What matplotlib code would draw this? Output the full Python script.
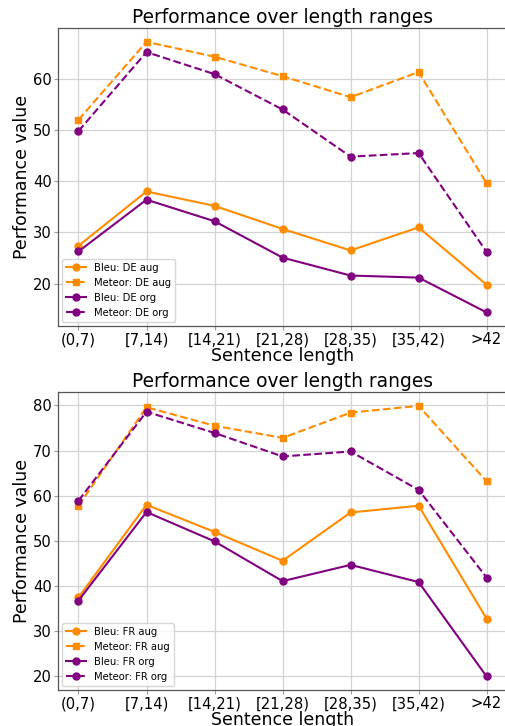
import matplotlib
matplotlib.use("Agg")
import matplotlib.pyplot as plt

# length buckets on the x axis
ranges = ["(0,7)", "[7,14)", "[14,21)", "[21,28)", "[28,35)", "[35,42)", ">42"]

# DE scores
bleu_de_aug = [27.4, 38.0, 35.2, 30.7, 26.5, 31.0, 19.8]
meteor_de_aug = [52.0, 67.2, 64.3, 60.5, 56.4, 61.3, 39.6]
bleu_de_org = [26.3, 36.4, 32.2, 25.1, 21.6, 21.2, 14.4]
meteor_de_org = [49.8, 65.2, 60.9, 54.0, 44.8, 45.5, 26.2]

# FR scores
bleu_fr_aug = [37.5, 58.0, 52.0, 45.6, 56.3, 57.8, 32.8]
meteor_fr_aug = [57.8, 79.6, 75.5, 72.8, 78.4, 79.9, 63.2]
bleu_fr_org = [36.8, 56.4, 49.9, 41.1, 44.7, 40.9, 20.0]
meteor_fr_org = [58.9, 78.6, 73.9, 68.7, 69.8, 61.3, 41.9]

aug_color = "darkorange"
org_color = "purple"

fig = plt.figure(figsize=(5.05, 7.26), dpi=100)
ax1 = fig.add_axes([0.115, 0.551, 0.889, 0.410])
ax2 = fig.add_axes([0.115, 0.0496, 0.889, 0.410])


def draw(ax, lang, b_aug, m_aug, b_org, m_org):
    style = dict(linewidth=1.5, markersize=5)
    ax.plot(ranges, b_aug, color=aug_color, marker="o", linestyle="-", label=f"Bleu: {lang} aug", **style)
    ax.plot(ranges, m_aug, color=aug_color, marker="s", linestyle="--", label=f"Meteor: {lang} aug", **style)
    ax.plot(ranges, b_org, color=org_color, marker="o", linestyle="-", label=f"Bleu: {lang} org", **style)
    ax.plot(ranges, m_org, color=org_color, marker="o", linestyle="--", label=f"Meteor: {lang} org", **style)
    ax.set_title("Performance over length ranges", fontsize=13.4, pad=4)
    ax.set_xlabel("Sentence length", fontsize=12.5, labelpad=0)
    ax.set_ylabel("Performance value", fontsize=12.5, labelpad=1.5)
    ax.tick_params(labelsize=10.6, length=3, color="#999999", pad=1.5)
    for s in ax.spines.values():
        s.set_color("#555555")
        s.set_linewidth(0.9)
    ax.grid(True, color="#d3d3d3", linewidth=0.9)
    ax.legend(loc="lower left", fontsize=7.2, borderaxespad=0.4)


draw(ax1, "DE", bleu_de_aug, meteor_de_aug, bleu_de_org, meteor_de_org)
draw(ax2, "FR", bleu_fr_aug, meteor_fr_aug, bleu_fr_org, meteor_fr_org)

fig.savefig("out.png", dpi=100)
